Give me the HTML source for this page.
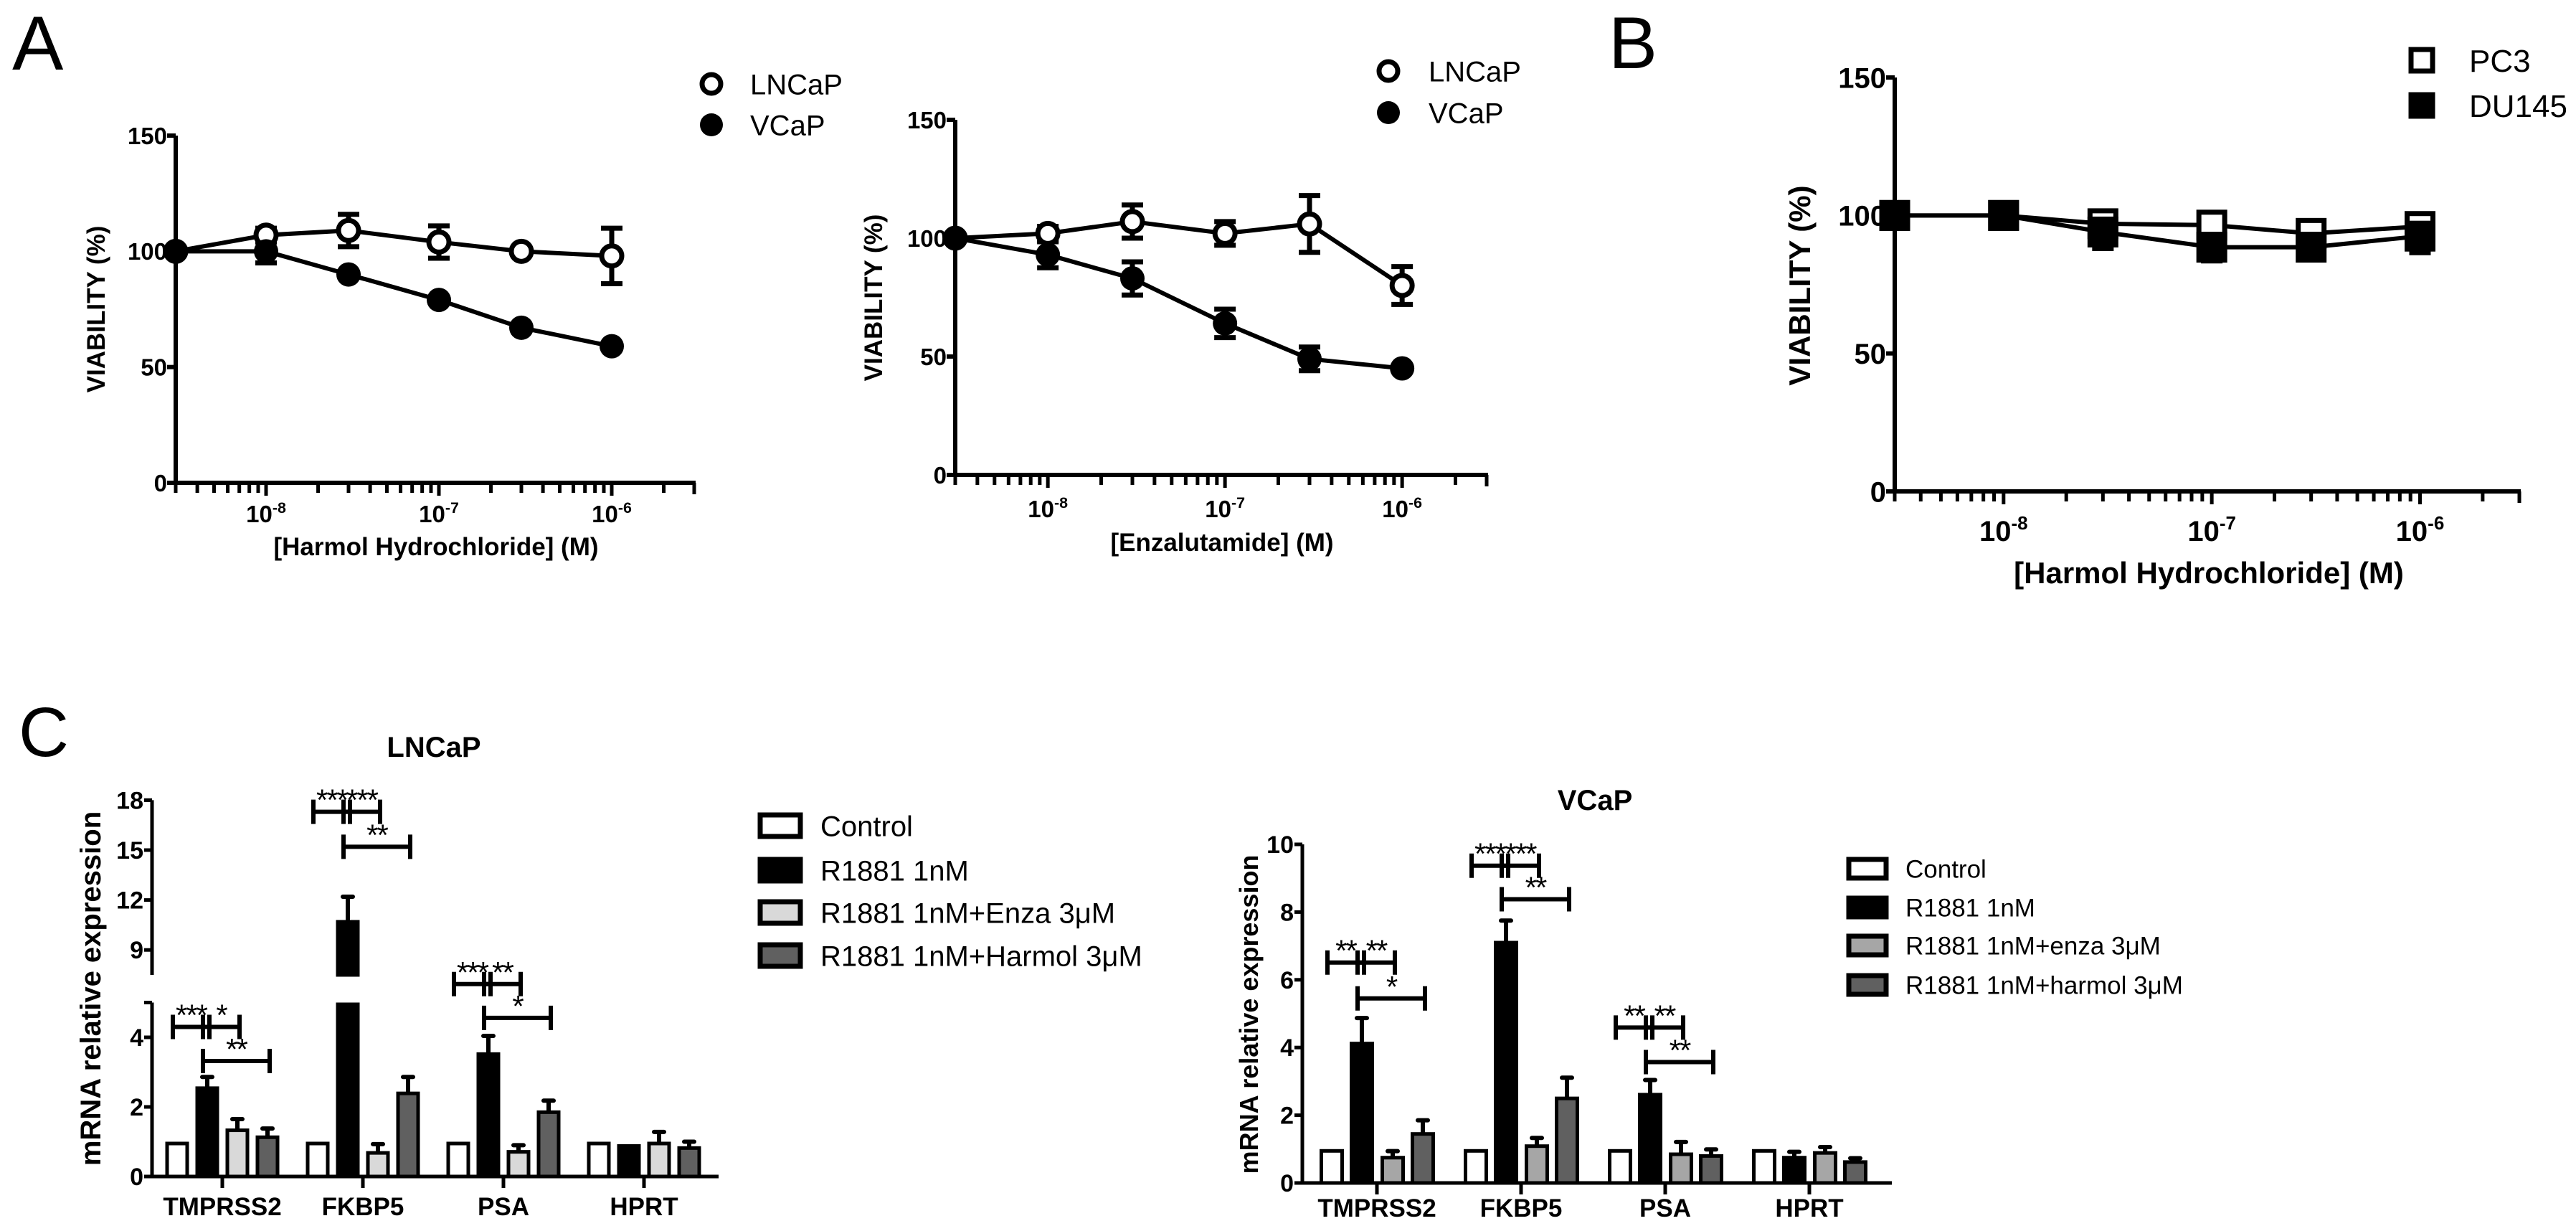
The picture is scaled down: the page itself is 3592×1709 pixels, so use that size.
<!DOCTYPE html>
<html><head><meta charset="utf-8">
<style>
html,body{margin:0;padding:0;background:#fff;}
svg{display:block;font-family:"Liberation Sans",Arial,sans-serif;}
</style></head>
<body>
<svg id="fig" width="3592" height="1709" viewBox="0 0 3592 1709" xmlns="http://www.w3.org/2000/svg">
<rect width="3592" height="1709" fill="#fff"/>
<text x="17" y="97" font-size="107">A</text>
<text x="2243" y="95" font-size="102">B</text>
<text x="26" y="1054" font-size="97">C</text>
<g id="layer"></g>
</svg>
<script>
// ---------- data: viability panels ----------
const doses = [3e-9, 1e-8, 3e-8, 1e-7, 3e-7, 1e-6];
const viaTicks = [0, 50, 100, 150];
const decadeLabels = ['-8', '-7', '-6'];
const a1Lncap = [100, 107, 109, 104, 100, 98];
const a1LncapErr = [0, 3, 7, 7, 0, 12];
const a1Vcap = [100, 100, 90, 79, 67, 59];
const a1VcapErr = [0, 5, 0, 0, 0, 0];
const a2Lncap = [100, 102, 107, 102, 106, 80];
const a2LncapErr = [0, 3, 7, 5, 12, 8];
const a2Vcap = [100, 93, 83, 64, 49, 45];
const a2VcapErr = [0, 5.5, 7, 6, 5, 0];
const bPc3 = [100, 100, 97, 96.5, 93.5, 96];
const bPc3Err = [0, 0, 2, 3, 3, 3];
const bDu145 = [100, 100, 94, 88.5, 88.5, 92.5];
const bDu145Err = [0, 0, 6, 5, 3, 6];
// ---------- data: mRNA panels ----------
const genes = ['TMPRSS2', 'FKBP5', 'PSA', 'HPRT'];
const lnControl = [1, 1, 1, 1];
const lnR1881 = [2.59, 10.8, 3.57, 0.93];
const lnR1881Err = [0.27, 1.4, 0.47, 0];
const lnEnza = [1.38, 0.73, 0.76, 1.0];
const lnEnzaErr = [0.27, 0.2, 0.14, 0.28];
const lnHarmol = [1.18, 2.44, 1.9, 0.87];
const lnHarmolErr = [0.2, 0.42, 0.28, 0.13];
const lnLowTicks = [0, 2, 4];
const lnHighTicks = [9, 12, 15, 18];
const vcControl = [1, 1, 1, 1];
const vcR1881 = [4.17, 7.15, 2.66, 0.8];
const vcR1881Err = [0.7, 0.6, 0.38, 0.12];
const vcEnza = [0.8, 1.14, 0.9, 0.94];
const vcEnzaErr = [0.14, 0.19, 0.31, 0.12];
const vcHarmol = [1.5, 2.55, 0.85, 0.67];
const vcHarmolErr = [0.35, 0.56, 0.14, 0.06];
const vcTicks = [0, 2, 4, 6, 8, 10];
// brackets: gene index, from bar, to bar, y value, label
const lnBrGene = [0, 0, 0, 1, 1, 1, 2, 2, 2];
const lnBrFrom = [0, 1, 1, 0, 1, 1, 0, 1, 1];
const lnBrTo = [1, 2, 3, 1, 2, 3, 1, 2, 3];
const lnBrVal = [4.3, 4.3, 3.32, 17.3, 17.3, 15.2, 5.53, 5.53, 4.56];
const lnBrLabel = ['***', '*', '**', '***', '***', '**', '***', '**', '*'];
const vcBrGene = [0, 0, 0, 1, 1, 1, 2, 2, 2];
const vcBrFrom = [0, 1, 1, 0, 1, 1, 0, 1, 1];
const vcBrTo = [1, 2, 3, 1, 2, 3, 1, 2, 3];
const vcBrVal = [6.51, 6.51, 5.45, 9.37, 9.37, 8.38, 4.59, 4.59, 3.57];
const vcBrLabel = ['**', '**', '*', '***', '***', '**', '**', '**', '**'];

const NS = 'http://www.w3.org/2000/svg';
const layer = document.getElementById('layer');
function mk(tag, attrs, parent, txt) {
  const e = document.createElementNS(NS, tag);
  for (const k in attrs) e.setAttribute(k, attrs[k]);
  if (txt !== undefined) e.textContent = txt;
  (parent || layer).appendChild(e);
  return e;
}

// ---------- viability panel ----------
function viaPanel(c) {
  const g = mk('g', {});
  
  
  const lmin = Math.log10(3e-9);
  const xs = d => c.x0 + (Math.log10(d) - lmin) / 3 * (c.x1 - c.x0);
  const ys = v => c.y0 - v / 150 * (c.y0 - c.y150);
  const ya = mk('line', {x1: c.x0, y1: c.y0 + 3, x2: c.x0, y2: c.y150, stroke: '#000', 'stroke-width': 6}, g);
  
  
  const xa = mk('line', {x1: c.x0 - 3, y1: c.y0, x2: c.x1 + 2, y2: c.y0, stroke: '#000', 'stroke-width': 6}, g);
  
  
  viaTicks.forEach(t => {
    mk('line', {x1: c.x0 - 12, y1: ys(t), x2: c.x0, y2: ys(t), stroke: '#000', 'stroke-width': 6}, g);
    const tl = mk('text', {x: c.x0 - 12, y: ys(t) + c.tf * 0.36, 'font-size': c.tf, 'font-weight': 'bold', 'text-anchor': 'end'}, g, String(t));
    
    
  });
  for (let e = -9; e <= -6; e++) {
    for (let m = 1; m <= 9; m++) {
      const d = m * Math.pow(10, e);
      if (d < 3e-9 * 0.999 || d > 3e-6 * 1.001) continue;
      const major = m === 1;
      mk('line', {x1: xs(d), y1: c.y0, x2: xs(d), y2: c.y0 + (major ? 18 : 14), stroke: '#000', 'stroke-width': 5}, g);
    }
  }
  mk('line', {x1: xs(3e-6), y1: c.y0, x2: xs(3e-6), y2: c.y0 + 16, stroke: '#000', 'stroke-width': 5}, g);
  decadeLabels.forEach((lab, i) => {
    const t = mk('text', {x: xs(Math.pow(10, -8 + i)), y: c.xtY, 'font-size': c.tf, 'font-weight': 'bold', 'text-anchor': 'middle'}, g);
    
    
    mk('tspan', {}, t, '10');
    mk('tspan', {dy: -c.tf * 0.4, 'font-size': c.tf * 0.65}, t, lab);
  });
  const xt = mk('text', {x: c.xtitleX, y: c.xtitleY, 'font-size': c.af, 'font-weight': 'bold', 'text-anchor': 'middle'}, g, c.xtitle);
  
  
  const yt = mk('text', {x: 0, y: 0, 'font-size': c.af, 'font-weight': 'bold', 'text-anchor': 'middle', transform: `translate(${c.ytX},${c.ytY}) rotate(-90)`}, g, 'VIABILITY (%)');
  
  
  c.series.forEach(s => {
    const sg = mk('g', {}, g);
    
    
    const pts = doses.map((d, i) => xs(d) + ',' + ys(s.vals[i])).join(' ');
    mk('polyline', {points: pts, fill: 'none', stroke: '#000', 'stroke-width': 6}, sg);
    doses.forEach((d, i) => {
      const er = s.errs[i];
      if (er > 0) {
        const x = xs(d);
        const eb = mk('path', {d: `M${x},${ys(s.vals[i] - er)}V${ys(s.vals[i] + er)}M${x - 15},${ys(s.vals[i] - er)}h30M${x - 15},${ys(s.vals[i] + er)}h30`, stroke: '#000', 'stroke-width': 7, fill: 'none'}, sg);
        
        
      }
    });
  });
  c.series.forEach(s => {
    doses.forEach((d, i) => {
      let m;
      const x = xs(d), y = ys(s.vals[i]);
      if (s.shape === 'circle') m = mk('circle', {cx: x, cy: y, r: s.open ? 14 : 17, fill: s.open ? '#fff' : '#000', stroke: '#000', 'stroke-width': s.open ? 7 : 0}, g);
      else m = mk('rect', {x: x - 18, y: y - 18, width: 36, height: 36, fill: s.open ? '#fff' : '#000', stroke: '#000', 'stroke-width': 7}, g);
      
      
    });
  });
  c.series.forEach((s, i) => {
    const lg = mk('g', {}, g);
    
    
    const ly = c.legY[i];
    if (s.shape === 'circle') mk('circle', {cx: c.legX, cy: ly, r: s.open ? 13 : 16, fill: s.open ? '#fff' : '#000', stroke: '#000', 'stroke-width': s.open ? 7 : 0}, lg);
    else mk('rect', {x: c.legX - 15, y: ly - 15, width: 30, height: 30, fill: s.open ? '#fff' : '#000', stroke: '#000', 'stroke-width': 7}, lg);
    mk('text', {x: c.legTX, y: ly + c.lf * 0.36, 'font-size': c.lf}, lg, s.label);
  });
}

viaPanel({name: 'viability-harmol-lncap-vcap', x0: 245, x1: 968, y0: 673, y150: 189, tf: 33, af: 35, xtY: 728, xtitle: '[Harmol Hydrochloride] (M)', xtitleX: 608, xtitleY: 774, ytX: 146, ytY: 431, legX: 992, legTX: 1046, legY: [117, 174], lf: 40,
  series: [{label: 'LNCaP', shape: 'circle', open: true, vals: a1Lncap, errs: a1LncapErr}, {label: 'VCaP', shape: 'circle', open: false, vals: a1Vcap, errs: a1VcapErr}]});
viaPanel({name: 'viability-enzalutamide-lncap-vcap', x0: 1332, x1: 2073, y0: 662, y150: 167, tf: 33, af: 35, xtY: 721, xtitle: '[Enzalutamide] (M)', xtitleX: 1704, xtitleY: 768, ytX: 1230, ytY: 415, legX: 1936, legTX: 1992, legY: [99, 157], lf: 40,
  series: [{label: 'LNCaP', shape: 'circle', open: true, vals: a2Lncap, errs: a2LncapErr}, {label: 'VCaP', shape: 'circle', open: false, vals: a2Vcap, errs: a2VcapErr}]});
viaPanel({name: 'viability-harmol-pc3-du145', x0: 2642, x1: 3513, y0: 685, y150: 108, tf: 40, af: 42, xtY: 754, xtitle: '[Harmol Hydrochloride] (M)', xtitleX: 3080, xtitleY: 813, ytX: 2524, ytY: 398, legX: 3377, legTX: 3443, legY: [84, 147], lf: 44,
  series: [{label: 'PC3', shape: 'square', open: true, vals: bPc3, errs: bPc3Err}, {label: 'DU145', shape: 'square', open: false, vals: bDu145, errs: bDu145Err}]});

// ---------- mRNA bar panels ----------
function barPanel(c) {
  const g = mk('g', {});
  
  
  const ys = c.ys;
  const barX = (gi, bi) => c.gx0 + gi * c.gs + c.offs[bi];
  const sw = 5;
  c.segs.forEach(sg => {
    const l = mk('line', {x1: c.x0, y1: sg[0], x2: c.x0, y2: sg[1], stroke: '#000', 'stroke-width': 5}, g);
    
    
    mk('line', {x1: c.x0 - 11, y1: sg[1], x2: c.x0, y2: sg[1], stroke: '#000', 'stroke-width': 5}, g);
  });
  c.ticks.forEach(t => {
    mk('line', {x1: c.x0 - 11, y1: ys(t), x2: c.x0, y2: ys(t), stroke: '#000', 'stroke-width': 5}, g);
    const tl = mk('text', {x: c.x0 - 12, y: ys(t) + 12, 'font-size': 34, 'text-anchor': 'end', 'font-weight': 'bold'}, g, String(t));
    
    
  });
  const xa = mk('line', {x1: c.x0 - 3, y1: c.y0, x2: c.x1, y2: c.y0, stroke: '#000', 'stroke-width': 5}, g);
  
  
  genes.forEach((gn, gi) => {
    const cx = c.gx0 + gi * c.gs;
    mk('line', {x1: cx, y1: c.y0, x2: cx, y2: c.y0 + 16, stroke: '#000', 'stroke-width': 5}, g);
    const t = mk('text', {x: cx, y: c.xlY, 'font-size': 35, 'font-weight': 'bold', 'text-anchor': 'middle'}, g, gn);
    
    
  });
  const yt = mk('text', {x: 0, y: 0, 'font-size': c.yf, 'font-weight': 'bold', 'text-anchor': 'middle', transform: `translate(${c.ytX},${c.ytY}) rotate(-90)`}, g, 'mRNA relative expression');
  
  
  const tt = mk('text', {x: c.titleX, y: c.titleY, 'font-size': 40, 'font-weight': 'bold', 'text-anchor': 'middle'}, g, c.title);
  
  
  c.series.forEach((s, bi) => {
    genes.forEach((gn, gi) => {
      const v = s.vals[gi];
      const x = barX(gi, bi);
      const w = c.bw;
      const parts = c.split(v);
      parts.forEach(p => {
        const r = mk('rect', {x: x - w / 2 + sw / 2, y: p[1] + sw / 2, width: w - sw, height: Math.max(0, p[0] - p[1] - sw / 2), fill: s.fill, stroke: '#000', 'stroke-width': sw}, g);
        
        
      });
      const er = s.errs ? s.errs[gi] : 0;
      if (er > 0) {
        const top = ys(v + er);
        const eb = mk('path', {d: `M${x},${ys(v)}V${top}M${x - 7},${top}h14`, stroke: '#000', 'stroke-width': 6, 'stroke-linecap': 'round', fill: 'none'}, g);
        
        
      }
    });
  });
  c.br.gene.forEach((gi, k) => {
    const xa1 = barX(gi, c.br.from[k]) - 6, xb = barX(gi, c.br.to[k]) + 3;
    const y = ys(c.br.val[k]);
    const bg = mk('g', {}, g);
    
    
    mk('path', {d: `M${xa1},${y}H${xb}M${xa1},${y - 17}V${y + 17}M${xb},${y - 17}V${y + 17}`, stroke: '#000', 'stroke-width': 6, fill: 'none'}, bg);
    mk('text', {x: (xa1 + xb) / 2, y: y - 2, 'font-size': 42, 'text-anchor': 'middle', 'letter-spacing': '-2'}, bg, c.br.label[k]);
  });
  c.series.forEach((s, i) => {
    const lg = mk('g', {}, g);
    
    
    const ly = c.legY[i];
    mk('rect', {x: c.legX + 3, y: ly - c.legH / 2 + 3, width: c.legW - 6, height: c.legH - 6, fill: s.fill, stroke: '#000', 'stroke-width': 7}, lg);
    mk('text', {x: c.legTX, y: ly + c.lf * 0.36, 'font-size': c.lf}, lg, s.label);
  });
}

const lnY0 = 1640, lnU = 48.5, lnYB = 1359, lnUU = 23.2;
function lnYs(v) { return v <= 6.2 ? lnY0 - v * lnU : lnYB - (v - 7.5) * lnUU; }
barPanel({name: 'mrna-lncap-chart', title: 'LNCaP', titleX: 605, titleY: 1055, x0: 212, x1: 1002, y0: 1640, ys: lnYs,
  segs: [[1642, lnYs(5)], [lnYB, lnYs(18)]], ticks: lnLowTicks.concat(lnHighTicks),
  split: v => v > 7.5 ? [[lnY0, lnYs(5)], [lnYB, lnYs(v)]] : [[lnY0, lnYs(v)]],
  gx0: 310, gs: 196, offs: [-63, -21, 21, 63], bw: 33, xlY: 1694, ytX: 140, ytY: 1378, yf: 40,
  legX: 1057, legW: 62, legH: 36, legY: [1151, 1213, 1272, 1332], legTX: 1144, lf: 40,
  br: {gene: lnBrGene, from: lnBrFrom, to: lnBrTo, val: lnBrVal, label: lnBrLabel},
  series: [
    {key: 'control', label: 'Control', fill: '#fff', vals: lnControl, errs: null},
    {key: 'r1881', label: 'R1881 1nM', fill: '#000', vals: lnR1881, errs: lnR1881Err},
    {key: 'enza', label: 'R1881 1nM+Enza 3\u03bcM', fill: '#d9d9d9', vals: lnEnza, errs: lnEnzaErr},
    {key: 'harmol', label: 'R1881 1nM+Harmol 3\u03bcM', fill: '#606060', vals: lnHarmol, errs: lnHarmolErr}]});

const vcY0 = 1649, vcU = 47.2;
function vcYs(v) { return vcY0 - v * vcU; }
barPanel({name: 'mrna-vcap-chart', title: 'VCaP', titleX: 2224, titleY: 1129, x0: 1816, x1: 2638, y0: vcY0, ys: vcYs,
  segs: [[1651, vcYs(10)]], ticks: vcTicks,
  split: v => [[vcY0, vcYs(v)]],
  gx0: 1920, gs: 201, offs: [-63, -21, 22, 64], bw: 34, xlY: 1696, ytX: 1754, ytY: 1414, yf: 36,
  legX: 2575, legW: 58, legH: 32, legY: [1211, 1265, 1318, 1373], legTX: 2657, lf: 35,
  br: {gene: vcBrGene, from: vcBrFrom, to: vcBrTo, val: vcBrVal, label: vcBrLabel},
  series: [
    {key: 'control', label: 'Control', fill: '#fff', vals: vcControl, errs: null},
    {key: 'r1881', label: 'R1881 1nM', fill: '#000', vals: vcR1881, errs: vcR1881Err},
    {key: 'enza', label: 'R1881 1nM+enza 3\u03bcM', fill: '#a6a6a6', vals: vcEnza, errs: vcEnzaErr},
    {key: 'harmol', label: 'R1881 1nM+harmol 3\u03bcM', fill: '#606060', vals: vcHarmol, errs: vcHarmolErr}]});
</script>
</body></html>
